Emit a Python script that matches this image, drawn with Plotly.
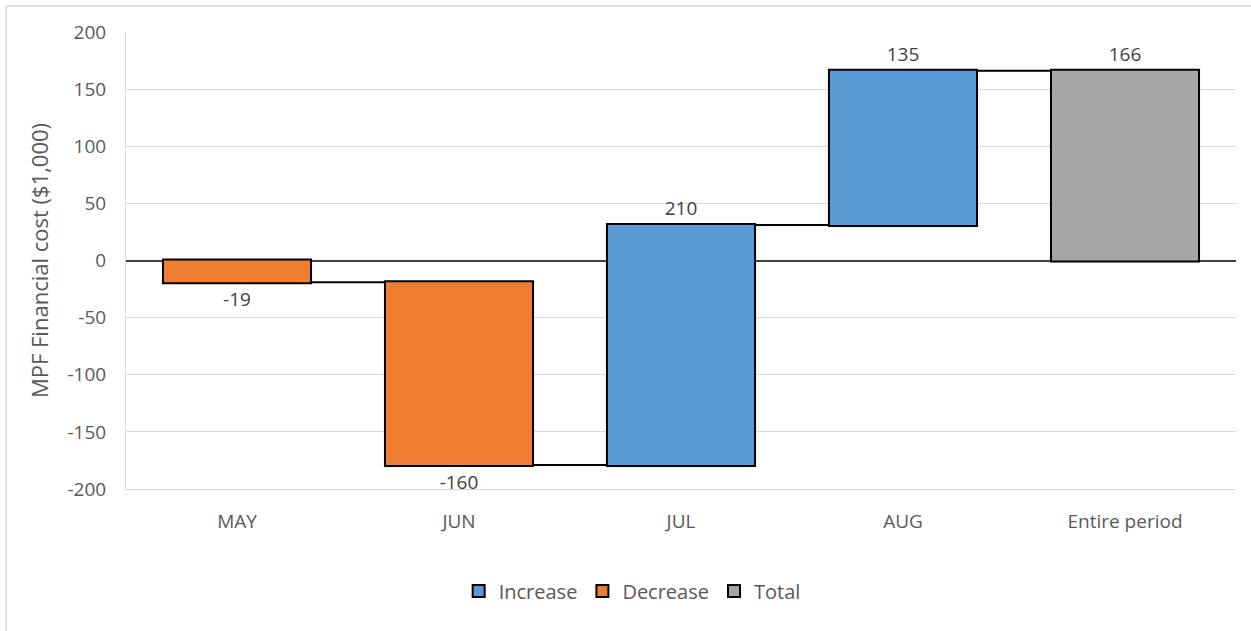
import plotly.graph_objects as go

# Monthly changes in MPF financial cost ($1,000) and the period total
categories = ["MAY", "JUN", "JUL", "AUG", "Entire period"]
changes = [-19, -160, 210, 135, 166]
measures = ["relative", "relative", "relative", "relative", "total"]
legend_names = ["Increase", "Decrease", "Total"]

y_ticks = [-200, -150, -100, -50, 0, 50, 100, 150, 200]
y_tick_labels = [str(v) for v in y_ticks]

BLUE = "#5B9BD5"
ORANGE = "#ED7D31"
GRAY = "#A5A5A5"
TEXT = "#595959"
GRID = "#D9D9D9"
FONT = "Open Sans, Noto Sans, sans-serif"

fig = go.Figure()

fig.add_trace(go.Waterfall(
    x=categories,
    y=changes,
    measure=measures,
    text=[str(v) for v in changes],
    textposition="outside",
    textfont=dict(family=FONT, size=19, color="#404040"),
    cliponaxis=False,
    increasing=dict(marker=dict(color=BLUE, line=dict(color="black", width=2))),
    decreasing=dict(marker=dict(color=ORANGE, line=dict(color="black", width=2))),
    totals=dict(marker=dict(color=GRAY, line=dict(color="black", width=2))),
    connector=dict(line=dict(color="black", width=2)),
    showlegend=False,
    hoverinfo="x+y",
))

# Legend keys for the three bar kinds
for name, color in zip(legend_names, [BLUE, ORANGE, GRAY]):
    fig.add_trace(go.Scatter(
        x=[None], y=[None], mode="markers", name=name,
        marker=dict(symbol="square", size=15, color=color,
                    line=dict(color="black", width=2)),
    ))

fig.update_layout(
    width=1251, height=631,
    margin=dict(l=126, r=15, t=32, b=142),
    paper_bgcolor="white",
    plot_bgcolor="white",
    font=dict(family=FONT, color=TEXT, size=19),
    waterfallgap=0.333,
    legend=dict(orientation="h", x=0.456, xanchor="center", y=-0.223,
                yanchor="middle", font=dict(size=20, color=TEXT),
                itemsizing="constant", traceorder="normal",
                itemwidth=30),
    xaxis=dict(
        showgrid=False, showline=True, linecolor=GRID, linewidth=1,
        ticks="", ticklabelstandoff=15,
        tickfont=dict(size=19, color=TEXT),
    ),
    yaxis=dict(
        range=[-200, 200], tickvals=y_ticks, ticktext=y_tick_labels,
        showgrid=True, gridcolor=GRID, gridwidth=1,
        zeroline=True, zerolinecolor="#404040", zerolinewidth=1.5,
        showline=True, linecolor=GRID, linewidth=1,
        ticks="", ticklabelstandoff=15,
        tickfont=dict(size=19, color=TEXT),
        title=dict(text="MPF Financial cost ($1,000)",
                   font=dict(size=22, color=TEXT), standoff=12),
    ),
    shapes=[
        dict(type="line", xref="paper", yref="paper",
             x0=-0.108, x1=1.02, y0=1.0569, y1=1.0569,
             line=dict(color=GRID, width=1.5)),
        dict(type="line", xref="paper", yref="paper",
             x0=-0.108, x1=-0.108, y0=1.0569, y1=-0.32,
             line=dict(color=GRID, width=1.5)),
    ],
)

fig.write_html("out.html")
